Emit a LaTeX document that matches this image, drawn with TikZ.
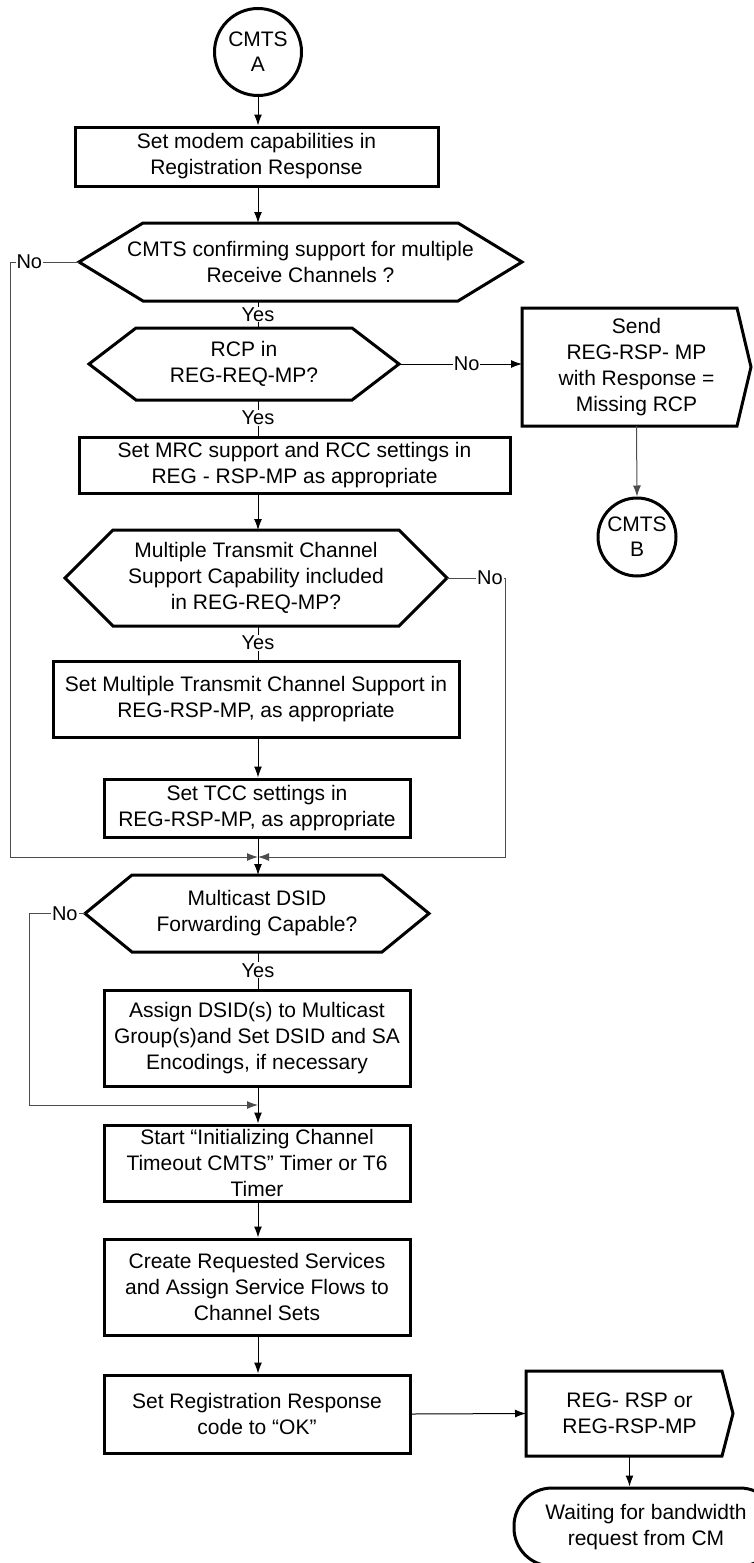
\documentclass[tikz,border=0pt]{standalone}
\usepackage{fontspec}
\setmainfont{Liberation Sans}
\usetikzlibrary{arrows.meta}

\newcommand{\hexdraw}[2]{\draw[line width=3pt] (#1.west) -- ([xshift=#2]#1.north west) -- ([xshift=-#2]#1.north east) -- (#1.east) -- ([xshift=-#2]#1.south east) -- ([xshift=#2]#1.south west) -- cycle;}
\newcommand{\senddraw}[2]{\draw[line width=3pt] (#1.north west) -- ([xshift=-#2]#1.north east) -- (#1.east) -- ([xshift=-#2]#1.south east) -- (#1.south west) -- cycle;}

\begin{document}
\begin{tikzpicture}[x=1pt, y=-1pt, font=\fontsize{21}{26}\selectfont,
    box/.style={draw, line width=3pt, inner sep=0pt, align=center},
    dec/.style={inner sep=0pt, outer sep=0pt, align=center},
    lbl/.style={fill=white, inner sep=1pt, font=\fontsize{20}{22}\selectfont},
    arr/.style={-{Latex[length=11pt,width=8pt]}},
    ln/.style={line width=1pt},
    back/.style={line width=1pt, draw=black!70}]
    \useasboundingbox (0,0) rectangle (753,1563);
    \coordinate (col) at (258,0);
    \draw (258, 52) node[box, circle, minimum size=87pt, font=\fontsize{21}{25}\selectfont](ca) {CMTS\\A};
    \draw (256.5, 156.5) node[box, minimum width=363pt, minimum height=59pt](b1) {Set modem capabilities in\\Registration Response};
    \draw (300.5, 262) node[dec, minimum width=443pt, minimum height=78pt](d1) {CMTS confirming support for multiple\\Receive Channels ?};
    \hexdraw{d1}{64}
    \draw (244, 364) node[dec, minimum width=310pt, minimum height=72pt](d2) {RCP in\\REG-REQ-MP?};
    \hexdraw{d2}{47}
    \draw (636.5, 367) node[dec, minimum width=229pt, minimum height=118pt](s1) {Send\\REG-RSP- MP\\with Response =\\Missing RCP};
    \senddraw{s1}{14}
    \draw (637, 537) node[box, circle, minimum size=78pt, font=\fontsize{21}{25}\selectfont](cb) {CMTS\\B};
    \draw (294.5, 465) node[box, minimum width=431pt, minimum height=56pt](b2) {Set MRC support and RCC settings in\\REG - RSP-MP as appropriate};
    \draw (256, 578) node[dec, minimum width=382pt, minimum height=96pt](d3) {Multiple Transmit Channel\\Support Capability included\\in REG-REQ-MP?};
    \hexdraw{d3}{48}
    \draw (256, 699) node[box, minimum width=406pt, minimum height=76pt](b3) {Set Multiple Transmit Channel Support in\\REG-RSP-MP,  as appropriate};
    \draw (257, 808) node[box, minimum width=306pt, minimum height=58pt](b4) {Set TCC settings in\\REG-RSP-MP, as appropriate};
    \coordinate (m1) at (258, 857);
    \draw (257, 913.5) node[dec, minimum width=344pt, minimum height=77pt](d4) {Multicast DSID\\Forwarding Capable?};
    \hexdraw{d4}{47}
    \draw (257, 1038) node[box, minimum width=306pt, minimum height=96pt](b5) {Assign DSID(s) to Multicast\\Group(s)and Set DSID and SA\\Encodings,  if necessary};
    \coordinate (m2) at (258, 1105);
    \draw (257, 1163) node[box, minimum width=306pt, minimum height=76pt](b6) {Start “Initializing Channel\\Timeout CMTS” Timer or T6\\Timer};
    \draw (257, 1287) node[box, minimum width=306pt, minimum height=96pt](b7) {Create Requested Services\\and Assign Service Flows to\\Channel Sets};
    \draw (257, 1414) node[box, minimum width=306pt, minimum height=78pt](b8) {Set Registration Response\\code to “OK”};
    \draw (629.5, 1413.5) node[dec, minimum width=207pt, minimum height=85pt](s2) {REG- RSP or\\REG-RSP-MP};
    \senddraw{s2}{11}
    \draw (646, 1527) node[box, rounded corners=38pt, minimum width=264pt, minimum height=78pt](w) {Waiting for bandwidth\\request from CM};
    \draw[ln, arr] (ca.south) -- (ca.south |- b1.north);
    \draw[ln, arr] (col |- b1.south) -- (col |- d1.north);
    \draw[ln] (col |- d1.south) -- node[lbl]{Yes} (col |- d2.north);
    \draw[ln, arr] (d2.east) -- node[lbl, pos=0.55]{No} (d2.east -| s1.west);
    \draw[back, arr] (s1.south) -- (cb.north);
    \draw[ln] (col |- d2.south) -- node[lbl]{Yes} (col |- b2.north);
    \draw[ln, arr] (col |- b2.south) -- (col |- d3.north);
    \draw[ln] (col |- d3.south) -- node[lbl]{Yes} (col |- b3.north);
    \draw[ln, arr] (col |- b3.south) -- (col |- b4.north);
    \draw[ln] (col |- b4.south) -- (m1);
    \draw[back, arr] (d1.west) -- node[lbl, pos=0.72]{No} ++(-69,0) |- (m1);
    \draw[back, arr] (d3.east) -- node[lbl, pos=0.74]{No} ++(58,0) |- (m1);
    \draw[ln, arr] (m1) -- (col |- d4.north);
    \draw[ln] (col |- d4.south) -- node[lbl]{Yes} (col |- b5.north);
    \draw[ln] (col |- b5.south) -- (m2);
    \draw[back, arr] (d4.west) -- node[lbl, pos=0.36]{No} ++(-56,0) |- (m2);
    \draw[ln, arr] (m2) -- (col |- b6.north);
    \draw[ln, arr] (col |- b6.south) -- (col |- b7.north);
    \draw[ln, arr] (col |- b7.south) -- (col |- b8.north);
    \draw[ln, arr] (b8.east) -- (s2.west);
    \draw[ln, arr] (s2.south) -- (s2.south |- w.north);
\end{tikzpicture}
\end{document}
